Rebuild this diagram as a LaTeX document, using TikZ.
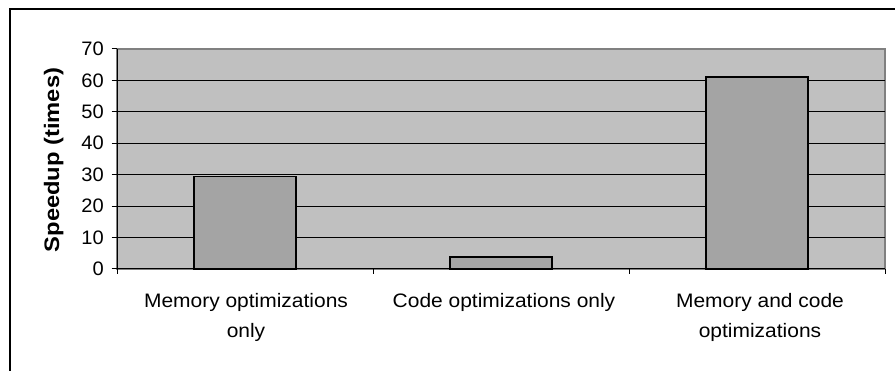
\documentclass[tikz,border=0pt]{standalone}
\usepackage{fontspec}
\setmainfont{Liberation Sans}
\newfontfamily\catfont[FakeStretch=1.075]{Liberation Sans}
\newfontfamily\tickfont[FakeStretch=1.03]{Liberation Sans}
\newfontfamily\titlefont[FakeStretch=1.13]{Liberation Sans}
\definecolor{plotbg}{RGB}{192,192,192}
\definecolor{plotedge}{RGB}{128,128,128}
\definecolor{barfill}{RGB}{164,164,164}
\tikzset{
  frameline/.style={line width=2pt, black},
  plotarea/.style={fill=plotbg, draw=plotedge, line width=1.2pt},
  gridline/.style={line width=1pt, black},
  axisline/.style={line width=1pt, black},
  barbox/.style={fill=barfill, draw=black, line width=1.8pt},
  ticklabel/.style={anchor=east, inner sep=0pt, font={\tickfont\fontsize{19.5}{23}\selectfont}},
  catlabel/.style={anchor=north, inner sep=0pt, align=center, font={\catfont\fontsize{19.5}{29.5}\selectfont}},
  axistitle/.style={rotate=90, anchor=base, inner sep=0pt, font={\titlefont\bfseries\fontsize{21}{25}\selectfont}}
}
\begin{document}
\begin{tikzpicture}[x=1pt, y=-1pt]
\useasboundingbox (0,0) rectangle (895,371);
\clip (0,0) rectangle (895,371);
% outer frame (extends beyond right and bottom edges)
\draw[frameline] (9.5,9.5) rectangle (905,385);
% plot area
\path[plotarea] (117,49) rectangle (885,269);
% gridlines
\foreach \k in {1,...,6} {
  \draw[gridline] (117,{269-31.4286*\k}) -- (885,{269-31.4286*\k});
}
% bars
\path[barbox] (194,269) rectangle (296,176.6);
\path[barbox] (450,269) rectangle (552,256.7);
\path[barbox] (706,269) rectangle (808,77.3);
% axes
\coordinate (yaxtop) at (117,49);
\coordinate (origin) at (117,269);
\coordinate (xaxend) at (885,269);
\draw[axisline] (yaxtop) -- (origin) -- (xaxend);
% y ticks and labels
\foreach \k in {0,...,7} {
  \draw[axisline] (111.5,{269-31.4286*\k}) -- (117,{269-31.4286*\k});
  \node[ticklabel] (yl\k) at (104,{269-31.4286*\k}) {\number\numexpr\k*10\relax};
}
% x ticks
\foreach \xx in {117,373,629,885} {
  \draw[axisline] (\xx,269) -- (\xx,274.5);
}
% category labels
\node[catlabel] (c1) at (246,293.3) {Memory optimizations\\only};
\node[catlabel] (c2) at (504,293.3) {Code optimizations only};
\node[catlabel] (c3) at (760,293.3) {Memory and code\\optimizations};
% axis title
\node[axistitle] (yt) at (59,160) {Speedup (times)};
\end{tikzpicture}
\end{document}
